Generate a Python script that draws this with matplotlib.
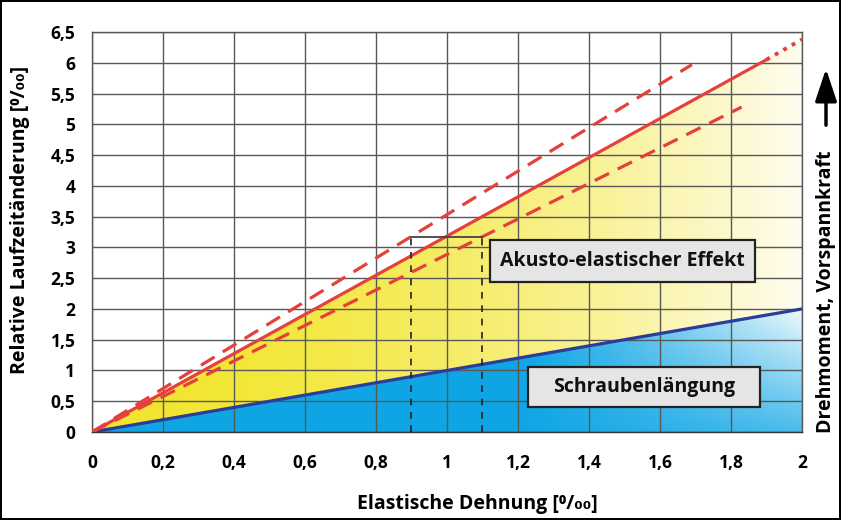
import numpy as np
import matplotlib.pyplot as plt
from matplotlib.patches import Polygon, Rectangle

plt.rcParams['font.family'] = ['Open Sans', 'DejaVu Sans']
plt.rcParams['font.weight'] = 'bold'

# data
strain = [0.0, 2.0]
elongation = [0.0, 2.0]               # Schraubenlängung (blue)
red_x = [0.0, 1.90]                   # akusto-elastic, solid
red_y = [0.0, 6.05]
red_dot_x = [1.90, 2.0]               # dotted continuation
red_dot_y = [6.05, 6.38]
upper_x = [0.0, 1.69]                 # upper tolerance (dashed)
upper_y = [0.0, 5.97]
lower_x = [0.0, 1.83]                 # lower tolerance (dashed)
lower_y = [0.0, 5.28]
bracket_x = [0.9, 1.1]
bracket_top = 3.17

xticks = [0, 0.2, 0.4, 0.6, 0.8, 1.0, 1.2, 1.4, 1.6, 1.8, 2.0]
yticks = [0, 0.5, 1, 1.5, 2, 2.5, 3, 3.5, 4, 4.5, 5, 5.5, 6, 6.5]


def fmt(v):
    return ('%g' % v).replace('.', ',')


fig = plt.figure(figsize=(8.41, 5.2), dpi=100)
fig.patch.set_edgecolor('black')
fig.patch.set_linewidth(1.5)
ax = fig.add_axes([0.1094, 0.1692, 0.8442, 0.7693])
ax.set_xlim(0, 2)
ax.set_ylim(0, 6.5)

# gradient fills
nx_, ny_ = 400, 400
gx, gy = np.meshgrid(np.linspace(0, 2, nx_), np.linspace(0, 6.5, ny_))

# yellow between blue and red line, fading to the right
t = np.clip(gx / 2.0, 0, 1) ** 1.8
yel = np.zeros((ny_, nx_, 4))
yel[..., 0] = 0.95 + 0.05 * t
yel[..., 1] = 0.90 + 0.09 * t
yel[..., 2] = 0.18 + 0.76 * t
yel[..., 3] = 1.0
im1 = ax.imshow(yel, extent=[0, 2, 0, 6.5], origin='lower', aspect='auto', zorder=0.5)
yel_poly = Polygon([[0, 0], [red_dot_x[1], red_dot_y[1]], [2, elongation[1]]],
                   closed=True, transform=ax.transData)
im1.set_clip_path(yel_poly)

# blue below blue line, fading toward upper right
tb = np.clip((gx - 1.2) / 0.8, 0, 1) * (0.3 + 0.7 * np.clip(gy / 2.0, 0, 1))
tb = tb ** 1.1
blu = np.zeros((ny_, nx_, 4))
blu[..., 0] = 0.06 + 0.88 * tb
blu[..., 1] = 0.65 + 0.33 * tb
blu[..., 2] = 0.90 + 0.09 * tb
blu[..., 3] = 1.0
im2 = ax.imshow(blu, extent=[0, 2, 0, 6.5], origin='lower', aspect='auto', zorder=0.6)
blu_poly = Polygon([[0, 0], [2, elongation[1]], [2, 0]], closed=True, transform=ax.transData)
im2.set_clip_path(blu_poly)

# grid
ax.set_xticks(xticks)
ax.set_yticks(yticks)
ax.grid(True, color='#585858', linewidth=1.0, zorder=1)
for sp in ax.spines.values():
    sp.set_color('#585858')
    sp.set_linewidth(1.0)
ax.spines['bottom'].set_color('#333333')
ax.tick_params(axis='both', length=0, labelsize=12.5)
ax.tick_params(axis='y', pad=12)
ax.tick_params(axis='x', pad=16)
ax.set_xticklabels([fmt(v) for v in xticks], fontweight='bold')
ax.set_yticklabels([fmt(v) for v in yticks], fontweight='bold')

# lines
red = '#e5413c'
ax.plot(strain, elongation, color='#2b3c9b', lw=2.3, zorder=3)
ax.plot(red_x, red_y, color=red, lw=2.3, zorder=3)
ax.plot(red_dot_x, red_dot_y, color=red, lw=2.8, ls=(0, (1, 1.5)), zorder=3)
ax.plot(upper_x, upper_y, color=red, lw=2.3, ls=(0, (5, 3)), zorder=3)
ax.plot(lower_x, lower_y, color=red, lw=2.3, ls=(0, (5, 3)), zorder=3)

# bracket
ax.plot(bracket_x, [bracket_top, bracket_top], color='#444444', lw=1.3, zorder=3)
for bx in bracket_x:
    ax.plot([bx, bx], [0, bracket_top], color='#222222', lw=1.2, ls=(0, (4, 4)), zorder=3)

# label boxes
for (x0, x1, y0, y1), txt in [((1.12, 1.868, 2.44, 3.12), 'Akusto-elastischer Effekt'),
                              ((1.228, 1.882, 0.406, 1.056), 'Schraubenlängung')]:
    ax.add_patch(Rectangle((x0, y0), x1 - x0, y1 - y0, facecolor='#e5e5e5',
                           edgecolor='#222222', linewidth=1.6, zorder=5))
    ax.text((x0 + x1) / 2, (y0 + y1) / 2, txt, ha='center', va='center',
            fontsize=14, fontweight='bold', color='#111111', zorder=6)

ax.set_xlabel('Elastische Dehnung [⁰/₀₀]', fontsize=14, fontweight='bold')
ax.xaxis.set_label_coords((477 - 92) / 710, -(494 - 432) / 400)
ax.set_ylabel('Relative Laufzeitänderung [⁰/₀₀]', fontsize=14, fontweight='bold')
ax.yaxis.set_label_coords(-(92 - 30) / 710, (432 - 220) / 400)

# right side label with arrow
fig.text(826 / 841, 1 - 292 / 520, 'Drehmoment, Vorspannkraft', rotation=90,
         ha='center', va='center', fontsize=14, fontweight='bold')
ax.annotate('', xy=(826 / 841, 1 - 66 / 520), xytext=(826 / 841, 1 - 128 / 520),
            xycoords='figure fraction', textcoords='figure fraction',
            arrowprops=dict(arrowstyle='-|>,head_width=0.3,head_length=0.9',
                            mutation_scale=22, color='black', lw=2.5))

fig.savefig('out.png', dpi=100)
